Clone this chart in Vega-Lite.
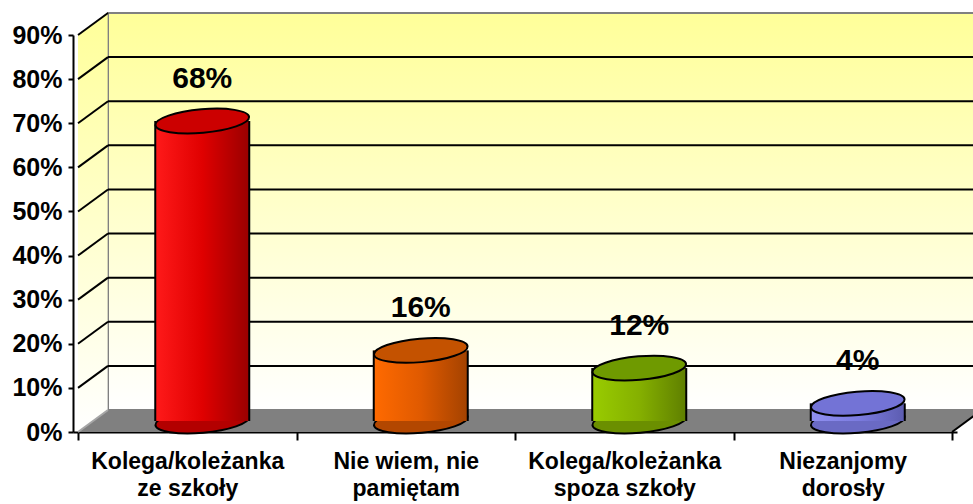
{
  "$schema": "https://vega.github.io/schema/vega-lite/v6.json",
  "width": 884,
  "height": 397,
  "autosize": "none",
  "padding": {"left": 73, "top": 35, "right": 16, "bottom": 72},
  "background": "white",
  "config": {"view": {"stroke": null}, "font": "Liberation Sans"},
  "datasets": {
    "bars": [
      {"cat": "Kolega/koleżanka ze szkoły", "x": 0.5, "y": 0.68},
      {"cat": "Nie wiem, nie pamiętam", "x": 1.5, "y": 0.16},
      {"cat": "Kolega/koleżanka spoza szkoły", "x": 2.5, "y": 0.12},
      {"cat": "Niezanjomy dorosły", "x": 3.5, "y": 0.04}
    ],
    "grid": [{"y": 0.1}, {"y": 0.2}, {"y": 0.3}, {"y": 0.4}, {"y": 0.5}, {"y": 0.6}, {"y": 0.7}, {"y": 0.8}],
    "diag": [{"y": 0.1}, {"y": 0.2}, {"y": 0.3}, {"y": 0.4}, {"y": 0.5}, {"y": 0.6}, {"y": 0.7}, {"y": 0.8}, {"y": 0.9}],
    "wall": [{"x": 0, "x2": 4.3, "y": 0, "y2": 0.9}],
    "side": [{"x": 0, "y": 0, "y2": 0.9}, {"x": 0.1357, "y": 0.05, "y2": 0.95}],
    "floor": [{"y": 0, "x": 0, "x2": 4}, {"y": 0.05, "x": 0.1357, "x2": 4.1357}],
    "edges": [{"x": 0, "y": 0}, {"x": 4, "y": 0}]
  },
  "layer": [
    {
      "data": {"name": "wall"},
      "mark": {
        "type": "rect", "xOffset": 30, "x2Offset": 30, "yOffset": -22, "y2Offset": -22,
        "fill": {"gradient": "linear", "x1": 0, "y1": 0, "x2": 0, "y2": 1,
          "stops": [{"offset": 0, "color": "#ffff99"}, {"offset": 1, "color": "#ffffff"}]},
        "stroke": "#808080", "strokeWidth": 2
      },
      "encoding": {
        "x": {"field": "x", "type": "quantitative",
          "scale": {"domain": [0, 4], "nice": false, "zero": false},
          "axis": {
            "title": null, "grid": false,
            "values": [0, 0.5, 1, 1.5, 2, 2.5, 3, 3.5, 4],
            "domainColor": "black", "domainWidth": 2,
            "tickColor": "black", "tickWidth": 2, "tickSize": 8,
            "tickOpacity": {"condition": {"test": "datum.value % 1 == 0", "value": 1}, "value": 0},
            "labelExpr": "datum.value == 0.5 ? ['Kolega/koleżanka','ze szkoły'] : datum.value == 1.5 ? ['Nie wiem, nie','pamiętam'] : datum.value == 2.5 ? ['Kolega/koleżanka','spoza szkoły'] : datum.value == 3.5 ? ['Niezanjomy','dorosły'] : ''",
            "labelFontSize": 23, "labelFontWeight": "bold", "labelColor": "black",
            "labelLineHeight": 27, "labelPadding": 10, "labelOverlap": false,
            "labelFlush": false, "labelBound": false, "labelLimit": 400
          }},
        "x2": {"field": "x2"},
        "y": {"field": "y", "type": "quantitative",
          "scale": {"domain": [0, 0.9], "nice": false, "zero": true},
          "axis": {
            "title": null, "grid": false,
            "values": [0, 0.1, 0.2, 0.3, 0.4, 0.5, 0.6, 0.7, 0.8, 0.9],
            "format": ".0%",
            "domainColor": "black", "domainWidth": 2,
            "tickColor": "black", "tickWidth": 2, "tickSize": 5,
            "labelFontSize": 25, "labelFontWeight": "bold", "labelColor": "black",
            "labelPadding": 6, "labelBound": false, "labelFlush": false
          }},
        "y2": {"field": "y2"}
      }
    },
    {
      "data": {"name": "side"},
      "mark": {
        "type": "area",
        "fill": {"gradient": "linear", "x1": 0, "y1": 0, "x2": 0, "y2": 1,
          "stops": [{"offset": 0, "color": "#ffff99"}, {"offset": 1, "color": "#ffffff"}]}
      },
      "encoding": {
        "x": {"field": "x", "type": "quantitative"},
        "y": {"field": "y", "type": "quantitative"},
        "y2": {"field": "y2"}
      }
    },
    {
      "data": {"name": "floor"},
      "mark": {"type": "area", "orient": "horizontal", "fill": "#808080"},
      "encoding": {
        "y": {"field": "y", "type": "quantitative"},
        "x": {"field": "x", "type": "quantitative"},
        "x2": {"field": "x2"}
      }
    },
    {
      "data": {"name": "grid"},
      "mark": {"type": "rule", "color": "black", "strokeWidth": 2, "xOffset": 30, "x2Offset": 30, "yOffset": -22},
      "encoding": {
        "x": {"datum": 0, "type": "quantitative"},
        "x2": {"datum": 4.3},
        "y": {"field": "y", "type": "quantitative"}
      }
    },
    {
      "data": {"name": "diag"},
      "mark": {"type": "rule", "color": "black", "strokeWidth": 2, "x2Offset": 30, "y2Offset": -22},
      "encoding": {
        "x": {"datum": 0, "type": "quantitative"},
        "x2": {"datum": 0},
        "y": {"field": "y", "type": "quantitative"},
        "y2": {"field": "y"}
      }
    },
    {
      "data": {"name": "edges"},
      "mark": {"type": "rule", "strokeWidth": 2, "x2Offset": 30, "y2Offset": -22},
      "encoding": {
        "x": {"field": "x", "type": "quantitative"},
        "x2": {"field": "x"},
        "y": {"field": "y", "type": "quantitative"},
        "y2": {"field": "y"},
        "stroke": {"condition": {"test": "datum.x == 0", "value": "#a6a6a6"}, "value": "black"}
      }
    },
    {
      "data": {"name": "bars"},
      "mark": {"type": "point", "shape": "M-1,0A1,0.25,0,1,0,1,0A1,0.25,0,1,0,-1,0Z", "size": 8836, "angle": -5,
        "filled": true, "opacity": 1, "stroke": "black", "strokeWidth": 2, "xOffset": 15, "yOffset": -11},
      "encoding": {
        "x": {"field": "x", "type": "quantitative"},
        "y": {"datum": 0, "type": "quantitative"},
        "fill": {"condition": [
          {"test": "datum.x == 0.5", "value": "#b30000"},
          {"test": "datum.x == 1.5", "value": "#b34700"},
          {"test": "datum.x == 2.5", "value": "#6b8f00"}], "value": "#6a6ac4"}
      }
    },
    {
      "data": {"name": "bars"},
      "mark": {"type": "bar", "width": 94, "xOffset": 15, "yOffset": -11, "y2Offset": -11, "stroke": null},
      "encoding": {
        "x": {"field": "x", "type": "quantitative"},
        "y": {"field": "y", "type": "quantitative"},
        "y2": {"datum": 0},
        "fill": {"condition": [
          {"test": "datum.x == 0.5", "value": {"gradient": "linear", "x1": 0, "y1": 0, "x2": 1, "y2": 0,
            "stops": [{"offset": 0, "color": "#ff1a1a"}, {"offset": 0.5, "color": "#e00000"}, {"offset": 1, "color": "#990000"}]}},
          {"test": "datum.x == 1.5", "value": {"gradient": "linear", "x1": 0, "y1": 0, "x2": 1, "y2": 0,
            "stops": [{"offset": 0, "color": "#ff6a00"}, {"offset": 0.5, "color": "#e05a00"}, {"offset": 1, "color": "#a34200"}]}},
          {"test": "datum.x == 2.5", "value": {"gradient": "linear", "x1": 0, "y1": 0, "x2": 1, "y2": 0,
            "stops": [{"offset": 0, "color": "#99cc00"}, {"offset": 0.5, "color": "#85b000"}, {"offset": 1, "color": "#5f7f00"}]}}],
          "value": {"gradient": "linear", "x1": 0, "y1": 0, "x2": 1, "y2": 0,
            "stops": [{"offset": 0, "color": "#9090f0"}, {"offset": 0.5, "color": "#7c7ce0"}, {"offset": 1, "color": "#5c5cb0"}]}}
      }
    },
    {
      "data": {"name": "bars"},
      "mark": {"type": "rule", "color": "black", "strokeWidth": 2, "xOffset": -32, "yOffset": -11, "y2Offset": -11},
      "encoding": {
        "x": {"field": "x", "type": "quantitative"},
        "y": {"field": "y", "type": "quantitative"},
        "y2": {"datum": 0}
      }
    },
    {
      "data": {"name": "bars"},
      "mark": {"type": "rule", "color": "black", "strokeWidth": 2, "xOffset": 62, "yOffset": -11, "y2Offset": -11},
      "encoding": {
        "x": {"field": "x", "type": "quantitative"},
        "y": {"field": "y", "type": "quantitative"},
        "y2": {"datum": 0}
      }
    },
    {
      "data": {"name": "bars"},
      "mark": {"type": "point", "shape": "M-1,0A1,0.25,0,1,0,1,0A1,0.25,0,1,0,-1,0Z", "size": 8836, "angle": -5,
        "filled": true, "opacity": 1, "stroke": "black", "strokeWidth": 2, "xOffset": 15, "yOffset": -11},
      "encoding": {
        "x": {"field": "x", "type": "quantitative"},
        "y": {"field": "y", "type": "quantitative"},
        "fill": {"condition": [
          {"test": "datum.x == 0.5", "value": "#cc0000"},
          {"test": "datum.x == 1.5", "value": "#c45200"},
          {"test": "datum.x == 2.5", "value": "#6f9a00"}], "value": "#7373d6"}
      }
    },
    {
      "data": {"name": "bars"},
      "mark": {"type": "text", "fontSize": 30, "fontWeight": "bold", "color": "black",
        "baseline": "middle", "align": "center", "xOffset": 15, "yOffset": -53},
      "encoding": {
        "x": {"field": "x", "type": "quantitative"},
        "y": {"field": "y", "type": "quantitative"},
        "text": {"field": "y", "type": "quantitative", "format": ".0%"}
      }
    }
  ]
}
